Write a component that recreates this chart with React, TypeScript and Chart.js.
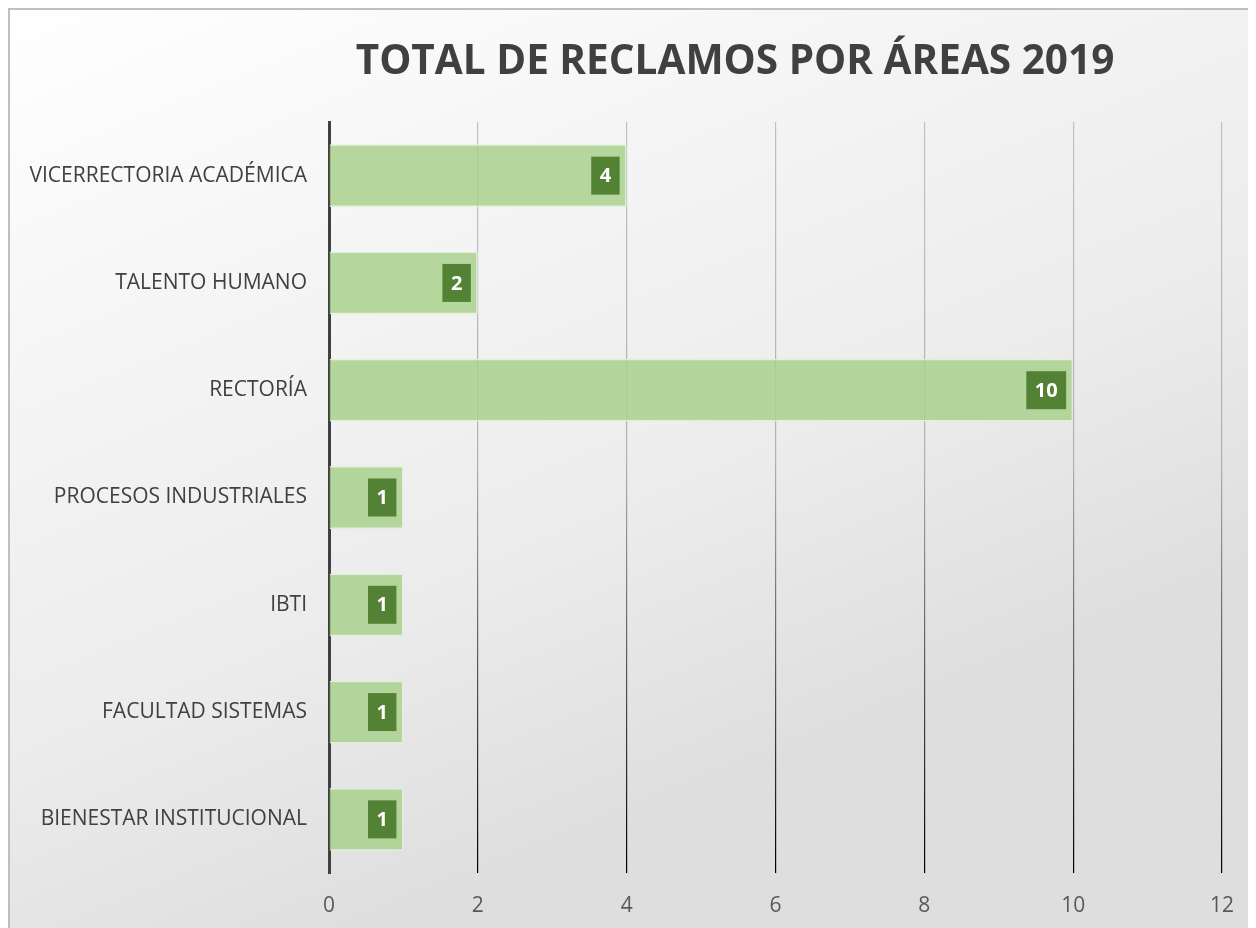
import React, { useEffect, useRef } from "react";
import { Chart, registerables } from "chart.js";

Chart.register(...registerables);

const categories = [
  "VICERRECTORIA ACADÉMICA",
  "TALENTO HUMANO",
  "RECTORÍA",
  "PROCESOS INDUSTRIALES",
  "IBTI",
  "FACULTAD SISTEMAS",
  "BIENESTAR INSTITUCIONAL",
];
const values = [4, 2, 10, 1, 1, 1, 1];
const xTicks = [0, 2, 4, 6, 8, 10, 12];
const titleText = "TOTAL DE RECLAMOS POR ÁREAS 2019";

const FONT = "'Open Sans', 'Liberation Sans', sans-serif";
const W = 1248;
const H = 920;

const bgPlugin = {
  id: "bgPlugin",
  beforeDraw(chart: any) {
    const { ctx, width, height } = chart;
    ctx.save();
    const g = ctx.createLinearGradient(0, 0, width * 0.3, height);
    g.addColorStop(0, "#ffffff");
    g.addColorStop(0.35, "#f5f5f5");
    g.addColorStop(0.7, "#ececec");
    g.addColorStop(1, "#dedede");
    ctx.fillStyle = g;
    ctx.fillRect(0, 0, width, height);
    ctx.strokeStyle = "#bfbfbf";
    ctx.lineWidth = 2;
    ctx.beginPath();
    ctx.moveTo(1, height);
    ctx.lineTo(1, 1);
    ctx.lineTo(width, 1);
    ctx.stroke();
    ctx.restore();
  },
  afterDraw(chart: any) {
    const { ctx } = chart;
    ctx.save();
    ctx.font = `bold 40.5px ${FONT}`;
    ctx.fillStyle = "#404040";
    ctx.textAlign = "center";
    ctx.textBaseline = "middle";
    ctx.fillText(titleText, 727, 54);
    ctx.restore();
  },
};

const labelPlugin = {
  id: "labelPlugin",
  afterDatasetsDraw(chart: any) {
    const { ctx } = chart;
    const meta = chart.getDatasetMeta(0);
    ctx.save();
    ctx.font = `bold 20px ${FONT}`;
    ctx.textAlign = "center";
    ctx.textBaseline = "middle";
    meta.data.forEach((bar: any, i: number) => {
      const txt = String(values[i]);
      const tw = ctx.measureText(txt).width;
      const bw = tw + 17;
      const bh = 38;
      const right = bar.x - 7;
      const left = right - bw;
      ctx.fillStyle = "#548235";
      ctx.fillRect(left, bar.y - bh / 2, bw, bh);
      ctx.fillStyle = "#ffffff";
      ctx.fillText(txt, left + bw / 2, bar.y + 1);
    });
    ctx.restore();
  },
};

export default function App() {
  const ref = useRef<HTMLCanvasElement | null>(null);

  useEffect(() => {
    document.documentElement.style.overflow = "hidden";
    document.body.style.overflow = "hidden";
    const canvas = ref.current;
    if (!canvas) return;
    const chart = new Chart(canvas, {
      type: "bar",
      data: {
        labels: categories,
        datasets: [
          {
            data: values,
            backgroundColor: "rgba(169,209,142,0.85)",
            borderColor: "rgba(226,240,217,0.95)",
            borderWidth: 1.5,
            barPercentage: 0.9,
            categoryPercentage: 0.65,
          },
        ],
      },
      options: {
        indexAxis: "y",
        animation: false,
        responsive: false,
        maintainAspectRatio: false,
        layout: { padding: { top: 114, right: 34, left: 0, bottom: 0 } },
        plugins: {
          legend: { display: false },
          title: { display: false },
          tooltip: { enabled: false },
        },
        scales: {
          x: {
            type: "linear",
            min: 0,
            max: 12,
            afterBuildTicks: (scale: any) => {
              scale.ticks = xTicks.map((v) => ({ value: v }));
            },
            afterFit: (scale: any) => {
              scale.height = 55;
            },
            border: { display: false },
            grid: {
              drawTicks: false,
              lineWidth: 1.2,
              color: (c: any) => {
                const ch = c.chart;
                const area = ch.chartArea;
                if (!area) return "#808080";
                const g = ch.ctx.createLinearGradient(0, area.top, 0, area.bottom);
                g.addColorStop(0, "#c0c0c0");
                g.addColorStop(0.45, "#b0b0b0");
                g.addColorStop(0.75, "#505050");
                g.addColorStop(1, "#000000");
                return g;
              },
            },
            ticks: {
              padding: 20,
              color: "#595959",
              font: { family: FONT, size: 21 },
            },
          },
          y: {
            type: "category",
            afterFit: (scale: any) => {
              scale.width = 321;
            },
            border: { display: true, color: "#404040", width: 3 },
            grid: { display: false, drawTicks: false },
            ticks: {
              padding: 22,
              color: "#404040",
              font: { family: FONT, size: 21 },
            },
          },
        },
      },
      plugins: [bgPlugin, labelPlugin],
    });
    return () => chart.destroy();
  }, []);

  return (
    <div style={{ width: W, height: H, position: "relative" }}>
      <canvas ref={ref} width={W} height={H} style={{ width: W, height: H, display: "block" }} />
    </div>
  );
}
